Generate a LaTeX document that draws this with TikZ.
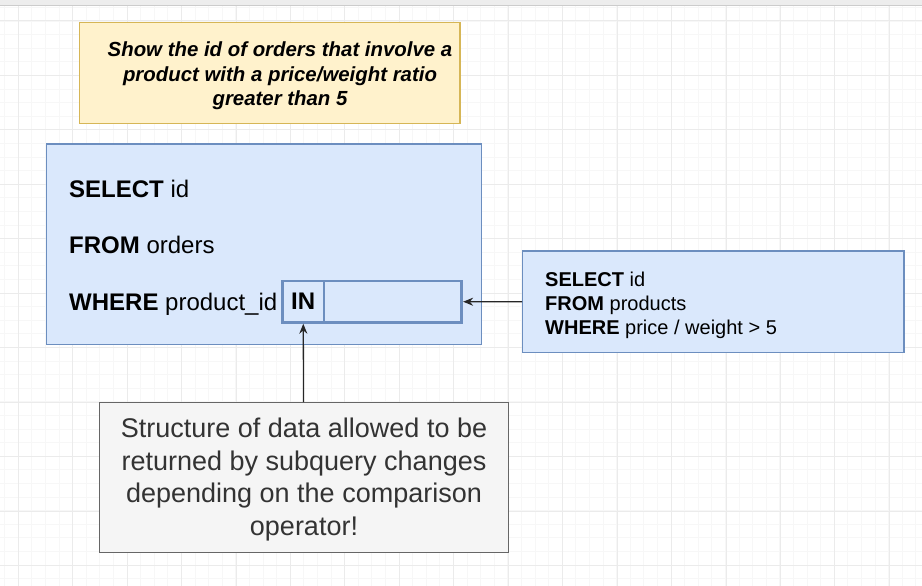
\documentclass[tikz,border=0pt]{standalone}
\usepackage{fontspec}
\setmainfont{Liberation Sans}
\usetikzlibrary{arrows.meta}

\definecolor{askFill}{HTML}{FFF2CC}
\definecolor{askLine}{HTML}{D6B656}
\definecolor{sqlFill}{HTML}{DAE8FC}
\definecolor{sqlLine}{HTML}{6C8EBF}
\definecolor{noteFill}{HTML}{F5F5F5}
\definecolor{noteLine}{HTML}{666666}
\definecolor{noteText}{HTML}{333333}
\definecolor{gridMinorCol}{HTML}{F7F7F7}
\definecolor{gridMajorCol}{HTML}{EBEBEB}
\definecolor{barCol}{HTML}{EDEDED}

\begin{document}
\begin{tikzpicture}[x=1pt,y=-1pt,
    ask/.style={fill=askFill,draw=askLine},
    sql/.style={fill=sqlFill,draw=sqlLine},
    slotbox/.style={fill=sqlFill,draw=sqlLine,line width=2.7pt},
    note/.style={fill=noteFill,draw=noteLine},
    sqlText/.style={inner sep=0,anchor=base west,font=\fontsize{24}{28}\selectfont},
    subText/.style={inner sep=0,anchor=base west,font=\fontsize{20}{24}\selectfont}]
\useasboundingbox (0,0) rectangle (922,586);

% background grid
\fill[white] (0,0) rectangle (922,586);
\foreach \x in {4.6,18.2,...,922} \draw[gridMinorCol,line width=0.8pt] (\x,0) -- (\x,586);
\foreach \y in {7.4,21,...,586} \draw[gridMinorCol,line width=0.8pt] (0,\y) -- (922,\y);
\foreach \x in {18.2,72.65,...,922} \draw[gridMajorCol,line width=1pt] (\x,0) -- (\x,586);
\foreach \y in {21,75.45,...,586} \draw[gridMajorCol,line width=1pt] (0,\y) -- (922,\y);
\fill[barCol] (0,0) rectangle (922,5);
\draw[black!20] (0,5) -- (922,5);

\begin{scope}[every node/.style={rectangle,inner sep=0,line width=1.3pt}]
    \node[ask,minimum width=380.5,minimum height=101] (Q) at (269.8,72.8) {};
    \node[sql,minimum width=435,minimum height=200.3] (M) at (264.3,244.2) {};
    \node[slotbox,minimum width=41.7,minimum height=41.3,
          font=\fontsize{24}{28}\selectfont\bfseries] (IN) at (303.2,301.7) {IN};
    \node[slotbox,minimum width=137.7,minimum height=41.3] (S) at (392.9,301.7) {};
    \node[sql,minimum width=381.3,minimum height=101.7] (P) at (713.3,301.8) {};
    \node[note,minimum width=409,minimum height=149.6] (N) at (303.8,477.5) {};
\end{scope}

% texts
\node[inner sep=0,align=center,font=\fontsize{20.4}{24.5}\selectfont\bfseries\itshape] (QT) at (280,76)
    {Show the id of orders that involve a\\product with a price/weight ratio\\greater than 5};
\foreach \kw/\rest [count=\i] in {SELECT/id,FROM/orders,WHERE/product\_id}
    \node[sqlText] (M\i) at (69,140.5+56.5*\i) {\textbf{\kw} \rest};
\foreach \kw/\rest [count=\i] in {SELECT/id,FROM/products,WHERE/{price / weight > 5}}
    \node[subText] (P\i) at (545,262+24*\i) {\textbf{\kw} \rest};
\node[inner sep=0,align=center,text=noteText,font=\fontsize{27}{32.5}\selectfont] (NT) at (304,479.6)
    {Structure of data allowed to be\\returned by subquery changes\\depending on the comparison\\operator!};

\begin{scope}[>={Stealth[length=10pt,width=8pt]},
              every edge/.style={draw=black!85,line width=1.3pt}]
    \path [->] (P) edge (S);
    \path [->] (N) edge (IN);
\end{scope}
\end{tikzpicture}
\end{document}
